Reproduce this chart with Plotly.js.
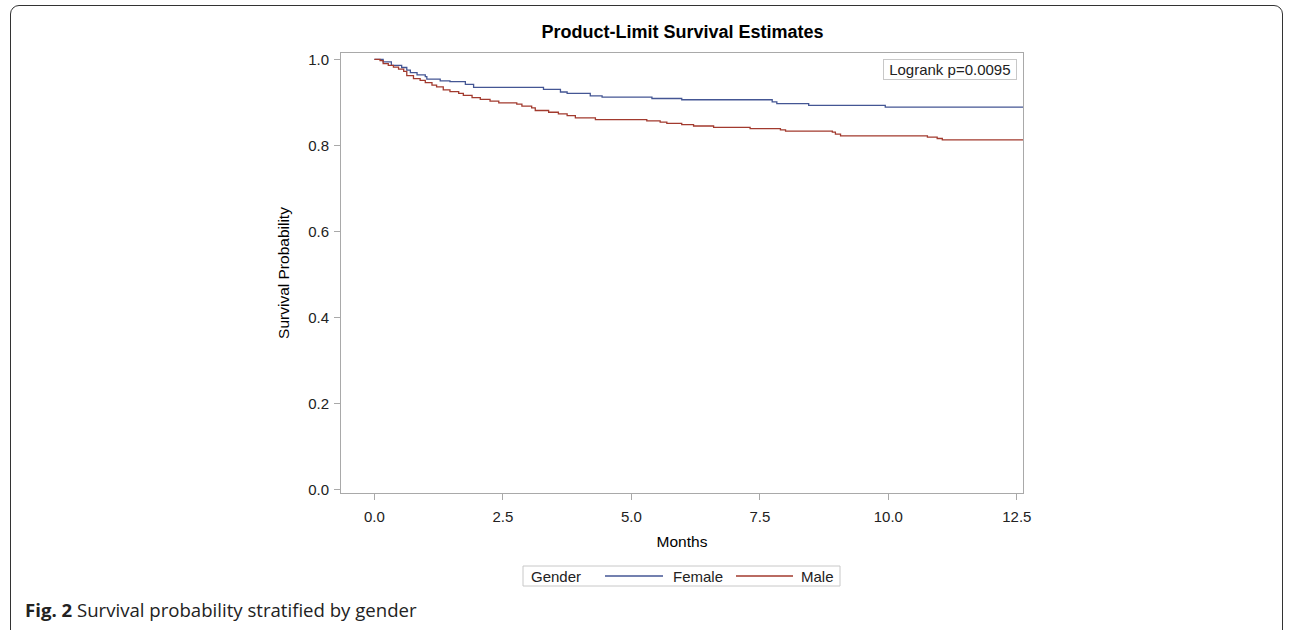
<!DOCTYPE html>
<html>
<head>
<meta charset="utf-8">
<script src="https://cdn.plot.ly/plotly-3.0.1.min.js"></script>
<style>
  html, body { margin: 0; padding: 0; background: #fff; }
  #wrap { position: relative; width: 1292px; height: 630px; overflow: hidden; }
  #chart { position: absolute; left: 0; top: 0; width: 1292px; height: 630px; }
  #frame { position: absolute; left: 10px; top: 5px; width: 1273px; height: 640px;
           border: 1.5px solid #333; border-radius: 9px; pointer-events: none; box-sizing: border-box; }
</style>
</head>
<body>
<div id="wrap">
  <div id="chart"></div>
  <div id="frame"></div>
</div>
<script>
// ---- data ----
const femaleMonths = [0, 0.17, 0.33, 0.53, 0.63, 0.70, 0.83, 0.99, 1.02, 1.28, 1.47, 1.77, 1.93, 3.29, 3.62, 3.75, 4.20, 4.43, 5.40, 5.98, 7.74, 7.83, 8.45, 9.94, 12.62];
const femaleSurv   = [1.0, 0.994, 0.986, 0.981, 0.975, 0.969, 0.964, 0.960, 0.954, 0.950, 0.948, 0.942, 0.935, 0.930, 0.924, 0.921, 0.915, 0.912, 0.909, 0.906, 0.901, 0.897, 0.893, 0.889, 0.889];

const maleMonths = [0, 0.11, 0.17, 0.27, 0.37, 0.47, 0.57, 0.63, 0.76, 0.89, 0.99, 1.12, 1.21, 1.34, 1.47, 1.64, 1.73, 1.90, 2.06, 2.25, 2.42, 2.77, 2.87, 3.06, 3.13, 3.39, 3.58, 3.75, 3.91, 4.30, 5.30, 5.56, 5.69, 5.98, 6.21, 6.60, 7.31, 7.90, 8.00, 8.91, 8.97, 9.07, 10.76, 10.95, 11.05, 12.62];
const maleSurv   = [1.0, 0.997, 0.990, 0.986, 0.982, 0.977, 0.972, 0.962, 0.955, 0.951, 0.946, 0.940, 0.936, 0.929, 0.925, 0.921, 0.916, 0.911, 0.907, 0.903, 0.899, 0.896, 0.891, 0.887, 0.881, 0.877, 0.873, 0.869, 0.864, 0.860, 0.857, 0.854, 0.851, 0.848, 0.845, 0.842, 0.839, 0.836, 0.833, 0.831, 0.826, 0.822, 0.819, 0.816, 0.813, 0.813];

const xTicks = [0, 2.5, 5.0, 7.5, 10.0, 12.5];
const xTickLabels = ["0.0", "2.5", "5.0", "7.5", "10.0", "12.5"];
const yTicks = [0, 0.2, 0.4, 0.6, 0.8, 1.0];
const yTickLabels = ["0.0", "0.2", "0.4", "0.6", "0.8", "1.0"];

const seriesNames = ["Female", "Male"];
const seriesColors = ["#445694", "#A23A2E"];
const titleText = "Product-Limit Survival Estimates";
const xTitle = "Months";
const yTitle = "Survival Probability";
const legendTitle = "Gender";
const logrankText = "Logrank p=0.0095";
const captionBold = "Fig. 2";
const captionText = " Survival probability stratified by gender";

// ---- layout helpers (pixel -> paper) ----
const W = 1292, H = 630;
const L = 341, R = 1023, T = 53, B = 493;
const pw = R - L, ph = B - T;
const px = v => (v - L) / pw;
const py = v => (B - v) / ph;

const font = "Liberation Sans, Arial, sans-serif";

const traces = [
  { x: femaleMonths, y: femaleSurv, name: seriesNames[0], type: "scatter", mode: "lines",
    line: { shape: "hv", color: seriesColors[0], width: 1.3 } },
  { x: maleMonths, y: maleSurv, name: seriesNames[1], type: "scatter", mode: "lines",
    line: { shape: "hv", color: seriesColors[1], width: 1.3 } }
];

// manual legend (box, sample lines, texts)
const legY = py(576);
const shapes = [
  { type: "rect", xref: "paper", yref: "paper", x0: px(523), x1: px(840), y0: py(566), y1: py(586),
    line: { color: "#c8c8c8", width: 1 }, fillcolor: "#fff", layer: "above" },
  { type: "line", xref: "paper", yref: "paper", x0: px(605), x1: px(663), y0: legY, y1: legY,
    line: { color: seriesColors[0], width: 1.3 } },
  { type: "line", xref: "paper", yref: "paper", x0: px(736), x1: px(793), y0: legY, y1: legY,
    line: { color: seriesColors[1], width: 1.3 } }
];

const legFont = { family: font, size: 15, color: "#222" };
const annotations = [
  { text: legendTitle, xref: "paper", yref: "paper", x: px(530), y: legY, xanchor: "left", yanchor: "middle",
    showarrow: false, font: legFont, borderpad: 0 },
  { text: seriesNames[0], xref: "paper", yref: "paper", x: px(672), y: legY, xanchor: "left", yanchor: "middle",
    showarrow: false, font: legFont, borderpad: 0 },
  { text: seriesNames[1], xref: "paper", yref: "paper", x: px(800), y: legY, xanchor: "left", yanchor: "middle",
    showarrow: false, font: legFont, borderpad: 0 },
  { text: "&nbsp;" + logrankText + "&nbsp;", xref: "paper", yref: "paper", x: px(1016.5), y: py(59),
    xanchor: "right", yanchor: "top", showarrow: false,
    font: { family: font, size: 15, color: "#222" },
    bordercolor: "#c8c8c8", borderwidth: 1, borderpad: 1, bgcolor: "#fff" },
  { text: "<b>" + captionBold + "</b>" + captionText, xref: "paper", yref: "paper",
    x: px(24), y: py(609), xanchor: "left", yanchor: "middle", showarrow: false,
    font: { family: "Open Sans, sans-serif", size: 18.6, color: "#222" }, borderpad: 0 }
];

const layout = {
  width: W, height: H,
  margin: { l: L, r: W - R, t: T, b: H - B, pad: 0 },
  paper_bgcolor: "rgba(0,0,0,0)",
  plot_bgcolor: "#fff",
  font: { family: font, size: 15, color: "#333" },
  title: { text: "<b>" + titleText + "</b>", x: px(682.5), xref: "paper", xanchor: "center",
           y: 1 - 32 / H, yref: "container", yanchor: "middle",
           font: { family: font, size: 18, color: "#000" } },
  xaxis: {
    range: [-0.65, 12.62], tickvals: xTicks, ticktext: xTickLabels,
    showgrid: false, zeroline: false, showline: true, mirror: true, linecolor: "#a9a9a9", linewidth: 1,
    ticks: "outside", ticklen: 6, tickcolor: "#a9a9a9", ticklabelstandoff: 4,
    tickfont: { family: font, size: 15, color: "#222" },
    title: { text: xTitle, standoff: 12, font: { family: font, size: 15.5, color: "#000" } },
    automargin: false
  },
  yaxis: {
    range: [-0.008, 1.0147], tickvals: yTicks, ticktext: yTickLabels,
    showgrid: false, zeroline: false, showline: true, mirror: true, linecolor: "#a9a9a9", linewidth: 1,
    ticks: "outside", ticklen: 6, tickcolor: "#a9a9a9", ticklabelstandoff: 2,
    tickfont: { family: font, size: 15, color: "#222" },
    title: { text: yTitle, standoff: 14, font: { family: font, size: 15.5, color: "#000" } },
    automargin: false
  },
  showlegend: false,
  shapes: shapes,
  annotations: annotations
};

Plotly.newPlot("chart", traces, layout, { displayModeBar: false, staticPlot: true });
</script>
</body>
</html>
